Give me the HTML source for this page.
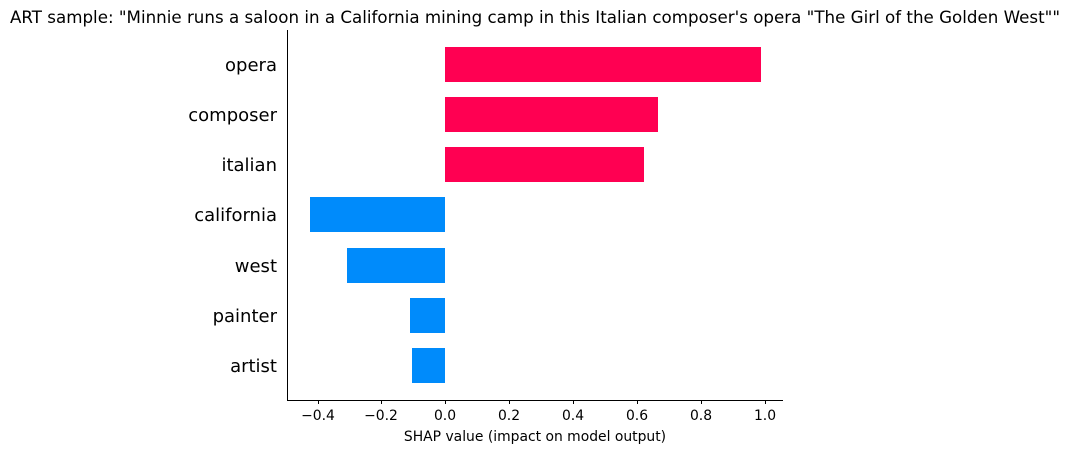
<!DOCTYPE html>
<html><head><style>body{margin:0;background:#fff}</style></head><body>
<svg width="1070" height="453" xmlns="http://www.w3.org/2000/svg" font-family="DejaVu Sans, sans-serif">
<text x="10" y="23" font-size="16.6" textLength="1050" lengthAdjust="spacingAndGlyphs">ART sample: "Minnie runs a saloon in a California mining camp in this Italian composer's opera "The Girl of the Golden West""</text>
<g fill="#ff0052">
<rect x="445" y="47" width="316" height="35"/>
<rect x="445" y="97" width="213" height="35"/>
<rect x="445" y="147" width="199" height="35"/>
</g>
<g fill="#008bfb">
<rect x="310" y="197" width="135" height="35"/>
<rect x="347" y="248" width="98" height="35"/>
<rect x="410" y="298" width="35" height="35"/>
<rect x="412" y="348" width="33" height="35"/>
</g>
<g stroke="#000" stroke-width="1">
<line x1="287.5" y1="30" x2="287.5" y2="400.5"/>
<line x1="287" y1="400.5" x2="783" y2="400.5"/>
<line x1="318.5" y1="400" x2="318.5" y2="404"/>
<line x1="381.5" y1="400" x2="381.5" y2="404"/>
<line x1="445.5" y1="400" x2="445.5" y2="404"/>
<line x1="509.5" y1="400" x2="509.5" y2="404"/>
<line x1="573.5" y1="400" x2="573.5" y2="404"/>
<line x1="637.5" y1="400" x2="637.5" y2="404"/>
<line x1="701.5" y1="400" x2="701.5" y2="404"/>
<line x1="765.5" y1="400" x2="765.5" y2="404"/>
</g>
<g font-size="13.9" text-anchor="middle">
<text x="318" y="420">−0.4</text>
<text x="381" y="420">−0.2</text>
<text x="445" y="420">0.0</text>
<text x="509" y="420">0.2</text>
<text x="573" y="420">0.4</text>
<text x="637" y="420">0.6</text>
<text x="701" y="420">0.8</text>
<text x="765" y="420">1.0</text>
<text x="535" y="441">SHAP value (impact on model output)</text>
</g>
<g font-size="18" text-anchor="end">
<text x="277" y="71">opera</text>
<text x="277" y="121">composer</text>
<text x="277" y="171">italian</text>
<text x="277" y="221">california</text>
<text x="277" y="272">west</text>
<text x="277" y="322">painter</text>
<text x="277" y="372">artist</text>
</g>
</svg>
</body></html>
